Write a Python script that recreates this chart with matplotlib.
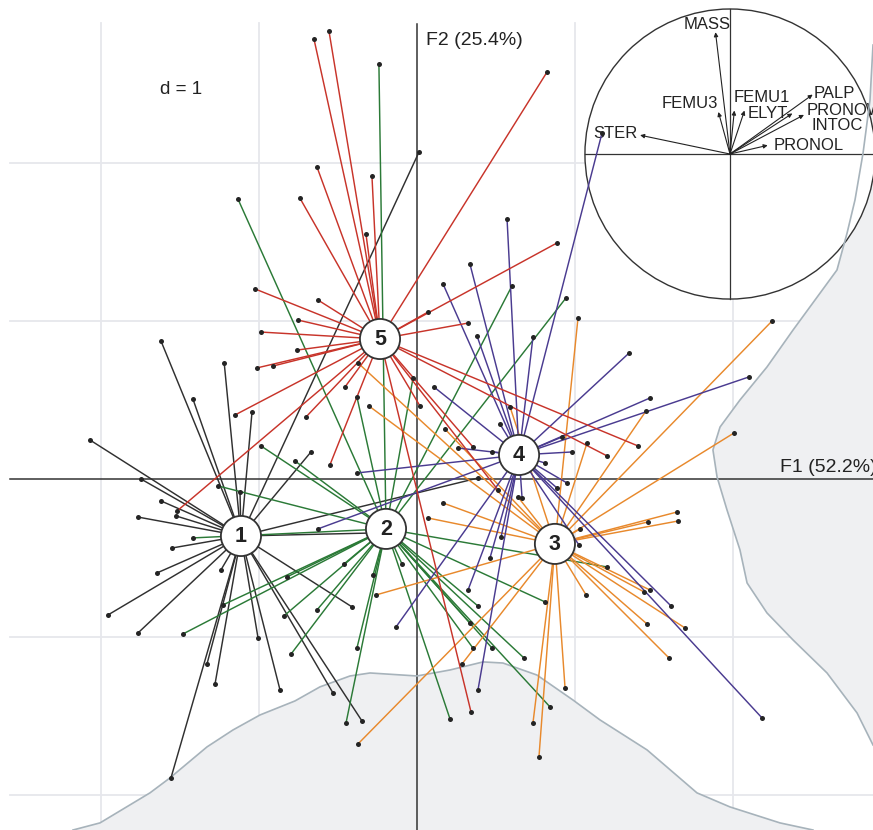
import numpy as np
import matplotlib
matplotlib.use("Agg")
import matplotlib.pyplot as plt

plt.rcParams['font.family'] = ['Liberation Sans', 'DejaVu Sans']

# class centres (F1, F2)
centres_x = [-1.114, -0.196, 0.873, 0.646, -0.234]
centres_y = [-0.361, -0.316, -0.411, 0.152, 0.886]
class_labels = ['1', '2', '3', '4', '5']
class_colors = ['#303030', '#2b7a37', '#e8892c', '#4a3b90', '#c8342a']

# individuals of each class
g1_x = [-1.62, -1.22, -1.418, -1.044, -2.07, -1.747, -1.62, -1.766, -1.525, -1.12,
        -1.551, -1.646, -1.956, -1.766, -1.241, -1.329, -1.278, -1.557, -1.006, -0.867,
        -0.532, -0.348, -0.411, 0.013, 0.386, -0.671, -0.285]
g1_y = [0.873, 0.734, 0.506, 0.424, 0.247, 0.0, -0.139, -0.241, -0.234, -0.082,
        -0.437, -0.595, -0.861, -0.975, -0.576, -1.171, -1.297, -1.892, -1.006, -1.335,
        -1.354, -1.532, -0.81, 2.07, 0.006, 0.171, -0.342]

g2_x = [-0.241, -1.133, -0.987, -0.772, -1.259, -1.418, -0.842, -0.797, -1.481, -1.228,
        -0.462, -0.633, -0.38, -0.449, -0.278, -0.095, 0.209, 0.386, 0.475, 0.354,
        0.677, 0.842, 0.81, -0.823, 0.601, 0.943, -0.38, -0.025, 1.203, 0.335]
g2_y = [2.627, 1.772, 0.209, 0.114, -0.044, -0.373, -0.867, -1.108, -0.981, -0.797,
        -0.538, -0.829, -1.07, -1.544, -0.608, -0.538, -1.519, -0.804, -1.07, -1.07,
        -1.133, -1.443, -0.778, -0.62, 1.222, 1.146, 0.519, 0.639, -0.557, -0.911]

g3_x = [1.019, 2.247, 2.006, 1.449, 1.076, 1.646, 1.652, 1.462, 1.032, 1.07,
        1.475, 1.437, 1.456, 1.696, 1.595, 0.937, 0.734, 0.772, -0.373, 0.285,
        -0.259, 0.165, 0.07, -0.304, -0.373, 0.177, 0.639, 0.589]
g3_y = [1.019, 1.0, 0.291, 0.43, 0.228, -0.209, -0.266, -0.272, -0.316, -0.734,
        -0.703, -0.715, -0.918, -0.943, -1.133, -1.323, -1.544, -1.759, -1.677, -1.171,
        -0.734, -0.152, -0.247, 0.462, 0.734, 0.316, -0.114, 0.456]

g4_x = [1.171, 0.57, 0.335, 0.165, 0.38, 0.734, 0.108, 0.525, 1.342, 1.475,
        2.101, 0.259, 0.475, -0.38, -0.627, 0.981, 0.949, 0.886, 0.665, 0.81,
        0.918, 0.532, 0.462, 0.323, -0.133, 0.386, 1.025, 1.608, 2.184]
g4_y = [2.19, 1.646, 1.361, 1.234, 0.905, 0.899, 0.582, 0.348, 0.797, 0.513,
        0.646, 0.196, 0.171, 0.038, -0.316, 0.171, -0.025, -0.057, -0.12, 0.101,
        0.266, -0.367, -0.5, -0.703, -0.937, -1.335, -0.418, -0.804, -1.513]

g5_x = [-0.652, -0.557, 0.823, -0.633, -0.741, -0.285, -0.323, 0.886, -1.025, -0.987,
        -0.753, -0.759, -1.013, -0.911, -1.152, -1.519, -0.627, 0.07, 0.323, -0.703,
        -0.456, -0.551, 0.019, 0.342, 1.399, 1.203, 0.513, 0.354]
g5_y = [2.785, 2.835, 2.576, 1.975, 1.778, 1.918, 1.551, 1.494, 1.203, 0.93,
        1.006, 0.816, 0.703, 0.715, 0.405, -0.203, 1.133, 1.057, 0.987, 0.392,
        0.582, 0.089, 0.462, -1.475, 0.209, 0.146, -0.07, 0.203]

groups_x = [g1_x, g2_x, g3_x, g4_x, g5_x]
groups_y = [g1_y, g2_y, g3_y, g4_y, g5_y]

# correlation circle (variables)
var_names = ['MASS', 'FEMU3', 'FEMU1', 'ELYT', 'PALP', 'PRONOW', 'INTOC', 'PRONOL', 'STER']
var_f1 = [-0.10, -0.08, 0.03, 0.10, 0.57, 0.43, 0.51, 0.26, -0.62]
var_f2 = [0.84, 0.29, 0.30, 0.30, 0.41, 0.28, 0.27, 0.06, 0.13]
label_pos = [(-0.16, 0.89, 'center'), (-0.28, 0.35, 'center'), (0.22, 0.39, 'center'),
             (0.26, 0.28, 'center'), (0.72, 0.42, 'center'), (0.53, 0.30, 'left'),
             (0.74, 0.20, 'center'), (0.54, 0.06, 'center'), (-0.79, 0.14, 'center')]

# outlines of the grey areas
mound_x = [-2.177, -2.006, -1.69, -1.563, -1.329, -1.165, -0.994, -0.772, -0.614, -0.424,
           -0.297, 0.0, 0.209, 0.418, 0.544, 0.759, 0.987, 1.158, 1.456, 1.772,
           1.981, 2.297, 2.506]
mound_y = [-2.222, -2.177, -1.987, -1.892, -1.696, -1.589, -1.494, -1.405, -1.316, -1.247,
           -1.228, -1.247, -1.209, -1.158, -1.165, -1.241, -1.399, -1.525, -1.715, -1.987,
           -2.076, -2.177, -2.222]
side_x = [2.886, 2.867, 2.823, 2.772, 2.722, 2.658, 2.519, 2.38, 2.215, 2.044,
          1.918, 1.873, 1.899, 1.962, 2.044, 2.089, 2.215, 2.38, 2.595, 2.785, 2.886]
side_y = [2.747, 2.399, 2.063, 1.766, 1.557, 1.323, 1.133, 0.943, 0.709, 0.5,
          0.329, 0.184, 0.013, -0.196, -0.449, -0.658, -0.848, -1.019, -1.228, -1.481, -1.684]

fig = plt.figure(figsize=(8.73, 8.30), dpi=100)
ax = fig.add_axes([0, 0, 1, 1])
ax.set_xlim(-2.639, 2.886)
ax.set_ylim(-2.222, 3.032)
ax.axis('off')

left, top = -2.576, 2.886
for v in [-2, -1, 1, 2]:
    ax.plot([v, v], [-3, top], color='#e6e7ec', lw=1.3, zorder=0)
    ax.plot([left, 4], [v, v], color='#e6e7ec', lw=1.3, zorder=0)

# grey areas
ax.fill(mound_x + [2.6, -2.3], mound_y + [-2.6, -2.6], color='#eff0f2', lw=0, zorder=1)
ax.fill(side_x + [3.2, 3.2], side_y + [-1.9, 2.9], color='#eff0f2', lw=0, zorder=1)

# axes
ax.plot([left, 4], [0, 0], color='#333333', lw=1.1, zorder=2)
ax.plot([0, 0], [-3, 2.88], color='#333333', lw=1.1, zorder=2)

# correlation circle
cx, cy, r = 1.981, 2.057, 0.918
ax.add_patch(plt.Circle((cx, cy), r, facecolor='white', edgecolor='#333333', lw=1.0, zorder=2.5))
ax.plot([cx - r, cx + r], [cy, cy], color='#333333', lw=0.9, zorder=2.6)
ax.plot([cx, cx], [cy - r, cy + r], color='#333333', lw=0.9, zorder=2.6)
for name, a, b, (lx, ly, ha) in zip(var_names, var_f1, var_f2, label_pos):
    ax.annotate('', xy=(cx + r * a, cy + r * b), xytext=(cx, cy),
                arrowprops=dict(arrowstyle='-|>', color='#222222', lw=0.8,
                                mutation_scale=6, shrinkA=0, shrinkB=0), zorder=2.7)
    ax.text(cx + r * lx, cy + r * ly, name, ha=ha, va='center', fontsize=12,
            color='#222222', zorder=2.8)

ax.plot(mound_x, mound_y, color='#a7b3bb', lw=1.2, zorder=3)
ax.plot(side_x, side_y, color='#a7b3bb', lw=1.2, zorder=3)

# stars
for k in range(5):
    for px, py in zip(groups_x[k], groups_y[k]):
        ax.plot([centres_x[k], px], [centres_y[k], py], color=class_colors[k], lw=1.05, zorder=4)
for k in range(5):
    ax.plot(groups_x[k], groups_y[k], 'o', color='#242424', ms=3.6, mec='none', zorder=5)

for k in range(5):
    ax.add_patch(plt.Circle((centres_x[k], centres_y[k]), 0.127, facecolor='white',
                            edgecolor='#333333', lw=1.3, zorder=6))
    ax.text(centres_x[k], centres_y[k] - 0.005, class_labels[k], ha='center', va='center',
            fontsize=15.5, fontweight='bold', color='#222222', zorder=7)

ax.text(0.057, 2.778, 'F2 (25.4%)', ha='left', va='center', fontsize=14, color='#222222')
ax.text(2.297, 0.07, 'F1 (52.2%)', ha='left', va='center', fontsize=14, color='#222222')
ax.text(-1.494, 2.468, 'd = 1', ha='center', va='center', fontsize=13.5, color='#222222')

fig.savefig('out.png', dpi=100)
